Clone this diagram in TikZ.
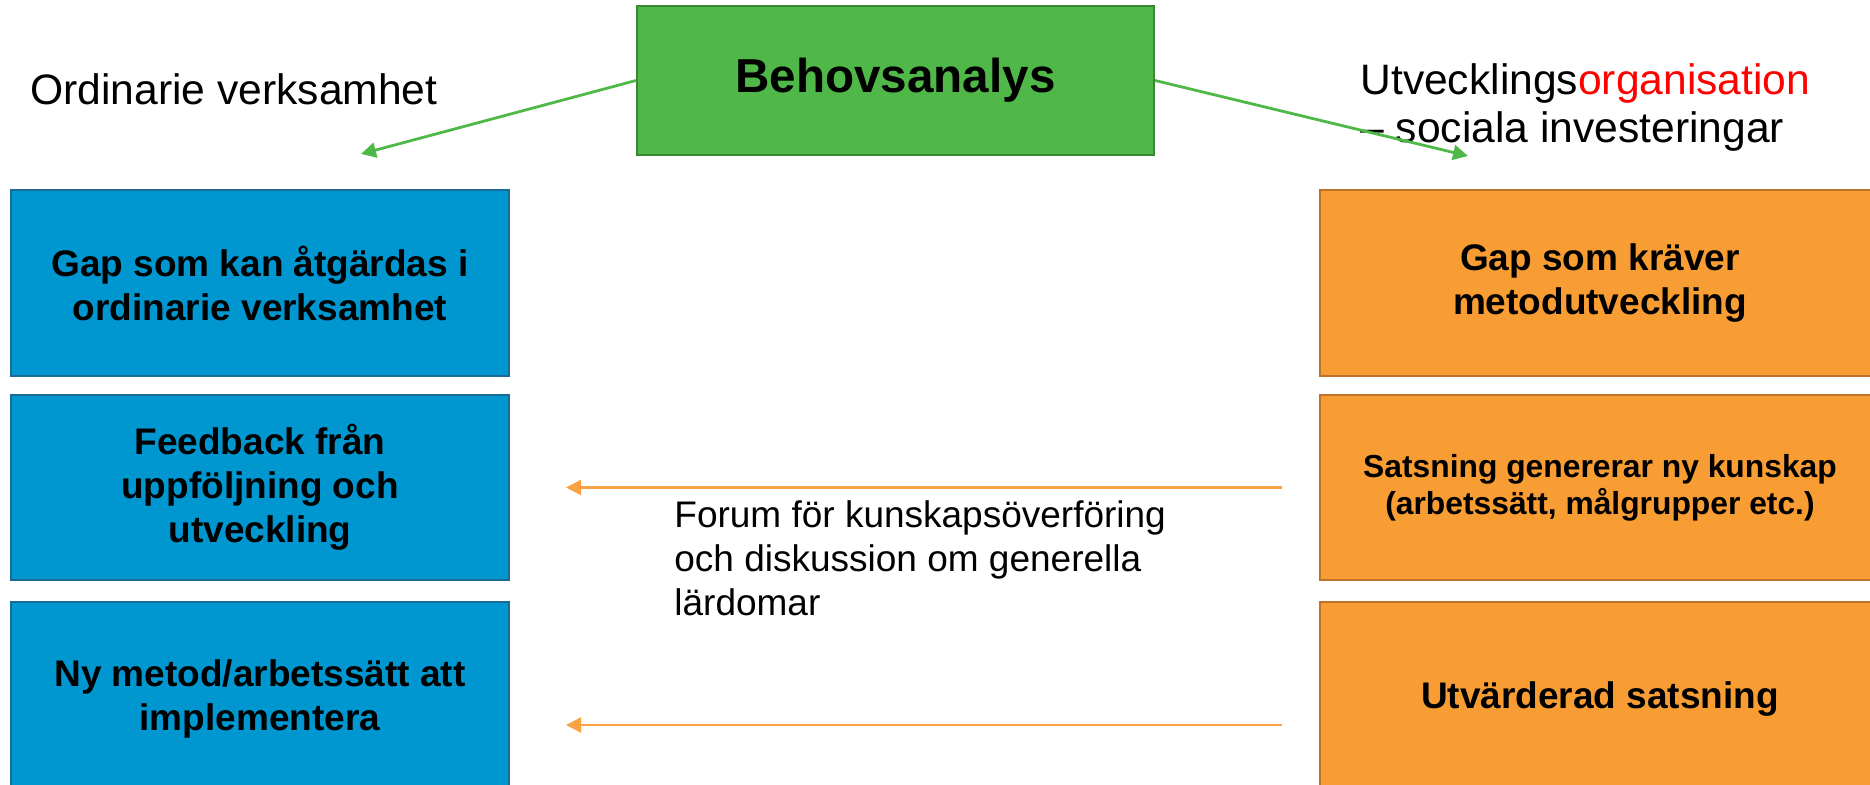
\documentclass[tikz,border=0pt]{standalone}
\usepackage{fontspec}
\setmainfont{Liberation Sans}
\usetikzlibrary{arrows.meta}
\definecolor{bluefill}{RGB}{0,150,208}
\definecolor{blueline}{RGB}{26,108,150}
\definecolor{orfill}{RGB}{248,156,52}
\definecolor{orline}{RGB}{190,115,40}
\definecolor{grfill}{RGB}{80,184,72}
\definecolor{grline}{RGB}{58,135,52}
\definecolor{grarrow}{RGB}{80,184,72}
\definecolor{orarrow}{RGB}{250,162,66}
\definecolor{redtext}{RGB}{255,0,0}
\begin{document}
\begin{tikzpicture}[x=0.5pt,y=-0.5pt,
  boxtext/.style={inner sep=0pt, align=center, font=\bfseries\fontsize{18.5pt}{22pt}\selectfont},
  bluebox/.style={boxtext, draw=blueline, fill=bluefill, line width=1pt, minimum width=249pt},
  orbox/.style={boxtext, draw=orline, fill=orfill, line width=1pt, minimum width=280pt},
  plain/.style={inner sep=0pt, align=left, font=\fontsize{21.3pt}{24pt}\selectfont},
  grarr/.style={draw=grarrow, line width=1.4pt, -{Triangle[length=7.5pt,width=7.5pt]}},
  orarr/.style={draw=orarrow, line width=1.2pt, -{Triangle[length=7.5pt,width=7.5pt]}}
]
\useasboundingbox (0,0) rectangle (1870,785);
\clip (0,0) rectangle (1870,785);

% green box
\node[draw=grline, fill=grfill, line width=1pt, minimum width=258.5pt, minimum height=74.5pt,
      inner sep=0pt, font=\bfseries\fontsize{23.8pt}{28pt}\selectfont] (g) at (895.5,80.5) {Behovsanalys};

% headings
\node[plain, anchor=base west] (ord) at (30,105) {Ordinarie verksamhet};
\node[plain, anchor=base west] (utv) at (1360,143) {Utvecklings\textcolor{redtext}{organisation}\\– sociala investeringar};

% blue column
\node[bluebox, minimum height=93pt] (b1) at (260,283) {Gap som kan åtgärdas i\\ordinarie verksamhet};
\node[bluebox, minimum height=92.5pt] (b2) at (260,487.5) {Feedback från\\uppföljning och\\utveckling};
\node[bluebox, minimum height=97pt] (b3) at (260,699) {Ny metod/arbetssätt att\\implementera};

% orange column
\node[orbox, minimum height=93pt] (o1) at (1600,283) {Gap som kräver\\metodutveckling};
\node[orbox, minimum height=92.5pt, font=\bfseries\fontsize{15.9pt}{18.5pt}\selectfont] (o2) at (1600,487.5) {Satsning genererar ny kunskap\\(arbetssätt, målgrupper etc.)};
\node[orbox, minimum height=97pt] (o3) at (1600,699) {Utvärderad satsning};

% middle text
\node[inner sep=0pt, align=left, anchor=base west, font=\fontsize{18.5pt}{22.2pt}\selectfont] (forum) at (674,616)
  {Forum för kunskapsöverföring\\och diskussion om generella\\lärdomar};

% green arrows
\coordinate (tl) at (361,154);
\coordinate (tr) at (1468,156);
\draw[grarr] (g.west) -- (tl);
\draw[grarr] (g.east) -- (tr);

% orange arrows
\draw[orarr] ([xshift=-18.5pt]o2.west) -- ([xshift=28pt]b2.east);
\draw[orarr] ([xshift=-18.5pt,yshift=-13pt]o3.west) -- ([xshift=28pt,yshift=-13pt]b3.east);
\end{tikzpicture}
\end{document}
